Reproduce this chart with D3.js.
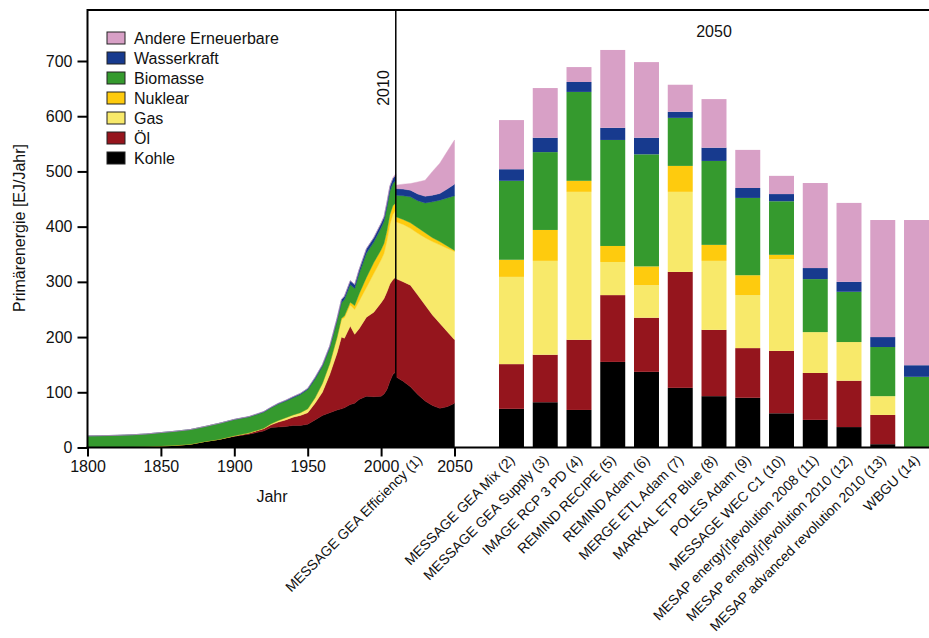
<!DOCTYPE html>
<html><head><meta charset="utf-8">
<script src="https://cdn.jsdelivr.net/npm/d3@7"></script>
<style>
body{margin:0;background:#fff}
text{font-family:"Liberation Sans",Arial,Helvetica,sans-serif;fill:#111}
</style>
</head><body>
<svg id="c" width="929" height="638"></svg>
<script>
// ---- series / legend ----
const sources = ["Kohle","Öl","Gas","Nuklear","Biomasse","Wasserkraft","Andere Erneuerbare"];
const colors  = ["#000000","#95151d","#f8e96a","#fecb0e","#359a2e","#173a8e","#d8a0c6"];

// ---- historical (1800-2010) EJ/Jahr ----
const histYears    = [1800,1810,1820,1830,1840,1850,1860,1870,1880,1890,1900,1910,1920,1925,1930,1935,1940,1945,1950,1955,1960,1965,1970,1973,1975,1979,1982,1985,1990,1995,2000,2002,2004,2006,2008,2010];
const histKohle    = [0,0.3,0.6,1,1.5,2.5,4,6,11,15,20,24,30,36,37,38,40,40,42,50,58,63,68,70,72,78,80,87,93,92,93,97,105,120,132,137];
const histOel      = [0,0,0,0,0,0,0,0,0,0,1,2,4,5,9,12,15,18,21,30,42,69,103,130,126,142,125,128,143,153,169,173,177,176,172,172];
const histGas      = [0,0,0,0,0,0,0,0,0,0,0.3,0.5,1,2,3,4,4,5,7,10,16,20,28,32,37,38,45,50,54,70,78,82,93,108,118,121];
const histNuklear  = [0,0,0,0,0,0,0,0,0,0,0,0,0,0,0,0,0,0,0,0,0,0,1,2,3,5,7,13,18,20,18,18,18,18,16,13];
const histBiomasse = [21,21.2,21.4,22,23,24.5,25.5,26.5,27,29,29.2,29,29,29,30,30,31,33,35,34,31,28,30,28,30,32,31,37,44,37,40,40,42,42,40,41];
const histWasser   = [0,0,0,0,0,0,0,0,0,0,0.5,0.5,1,1,1,1.5,2,2,2,3,3,4,4,6,6,7,7,7,8,8,8,8,9,9,9,10];
const histAndere   = [0,0,0,0,0,0,0,0,0,0,0,0,0,0,0,0,0,0,0,0,0,0,0,0,0,0,0,0,0,0,0.5,0.5,1,1,1.5,2];

// ---- scenario MESSAGE GEA Efficiency (1), 2010-2050 ----
const scenYears    = [2010,2015,2020,2025,2030,2035,2040,2045,2050];
const scenKohle    = [128,120,110,96,84,76,71,74,80];
const scenOel      = [178,180,184,180,174,164,154,136,115];
const scenGas      = [103,104,103,112,122,133,142,151,160];
const scenNuklear  = [9,9,10,10,9,7,6,4,2];
const scenBiomasse = [39,43,47,49,54,65,75,87,99];
const scenWasser   = [12,12,12,12,12,12,12,16,21];
const scenAndere   = [6,9,12,22,29,43,55,68,80];

// ---- 2050 scenarios (bars) ----
const barLabels = ["MESSAGE GEA Mix (2)","MESSAGE GEA Supply (3)","IMAGE RCP 3 PD (4)","REMIND RECIPE (5)","REMIND Adam (6)","MERGE ETL Adam (7)","MARKAL ETP Blue (8)","POLES Adam (9)","MESSAGE WEC C1 (10)","MESAP energy[r]evolution 2008 (11)","MESAP energy[r]evolution 2010 (12)","MESAP advanced revolution 2010 (13)","WBGU (14)"];
const barKohle    = [70,82,68,155,137,108,93,90,62,50,37,6,1];
const barOel      = [81,86,127,121,98,210,120,90,113,85,84,53,0];
const barGas      = [158,170,268,60,59,145,125,96,166,74,70,34,0];
const barNuklear  = [31,56,20,29,34,47,29,36,8,0,0,0,0];
const barBiomasse = [143,141,161,192,203,87,152,140,97,96,91,89,127];
const barWasser   = [21,26,18,22,30,11,24,18,13,20,18,18,21];
const barAndere   = [89,90,27,141,137,49,88,69,33,154,143,212,263];

const yTicks = [0,100,200,300,400,500,600,700];
const xTicks = [1800,1850,1900,1950,2000,2050];
const scen1Label = "MESSAGE GEA Efficiency (1)";

// ---- build rows ----
function rows(keys, arrs, extra){
  return keys.map((k,i)=>{
    const o = Object.assign({}, extra(k,i));
    sources.forEach((s,j)=> o[s] = arrs[j][i]);
    return o;
  });
}
const histRows = rows(histYears,[histKohle,histOel,histGas,histNuklear,histBiomasse,histWasser,histAndere],(k)=>({year:k}));
const scenRows = rows(scenYears,[scenKohle,scenOel,scenGas,scenNuklear,scenBiomasse,scenWasser,scenAndere],(k)=>({year:k}));
const barRows  = rows(barLabels,[barKohle,barOel,barGas,barNuklear,barBiomasse,barWasser,barAndere],(k)=>({label:k}));

const svg = d3.select("#c");
const x = d3.scaleLinear().domain([1800,2050]).range([87.5,454.5]);
const y = d3.scaleLinear().domain([0,700]).range([447.5,61]);
const xb = d3.scaleBand().domain(barLabels).range([499,929]).paddingInner(0.26).paddingOuter(0);
const color = d3.scaleOrdinal().domain(sources).range(colors);

const stack = d3.stack().keys(sources);
const area = d3.area().x(d=>x(d.data.year)).y0(d=>y(d[0])).y1(d=>y(d[1]));

[histRows, scenRows].forEach(data=>{
  svg.append("g").selectAll("path").data(stack(data)).join("path")
    .attr("d", area).attr("fill", d=>color(d.key))
    .attr("stroke", d=>color(d.key)).attr("stroke-width",0.4);
});

// bars
svg.append("g").selectAll("g").data(stack(barRows)).join("g")
  .attr("fill", d=>color(d.key))
  .selectAll("rect").data(d=>d).join("rect")
  .attr("x", d=>xb(d.data.label)).attr("width", xb.bandwidth())
  .attr("y", d=>y(d[1])).attr("height", d=>Math.max(0,y(d[0])-y(d[1])));

// frame lines
svg.append("line").attr("x1",87.5).attr("x2",929).attr("y1",10).attr("y2",10).attr("stroke","#000").attr("stroke-width",2);
svg.append("line").attr("x1",87.5).attr("x2",87.5).attr("y1",9).attr("y2",447.5).attr("stroke","#000").attr("stroke-width",2);
svg.append("line").attr("x1",x(2010)).attr("x2",x(2010)).attr("y1",10).attr("y2",447.5).attr("stroke","#000").attr("stroke-width",1.5);

// y axis
const ya = svg.append("g").attr("transform","translate(87.5,0)")
  .call(d3.axisLeft(y).tickValues(yTicks).tickSize(10).tickPadding(5));
ya.select(".domain").remove();
ya.selectAll("line").attr("stroke","#000").attr("stroke-width",2);
ya.selectAll("text").attr("font-size",16).style("font-family",'"Liberation Sans",Arial,sans-serif').attr("fill","#111");

// x axis
const xa = svg.append("g").attr("transform","translate(0,447.5)")
  .call(d3.axisBottom(x).tickValues(xTicks).tickFormat(d3.format("d")).tickSize(9).tickPadding(4));
xa.select(".domain").remove();
xa.selectAll("line").attr("stroke","#000").attr("stroke-width",2);
xa.selectAll("text").attr("font-size",16).style("font-family",'"Liberation Sans",Arial,sans-serif').attr("fill","#111");
svg.append("line").attr("x1",86.5).attr("x2",929).attr("y1",447.5).attr("y2",447.5).attr("stroke","#000").attr("stroke-width",2);

// axis titles
svg.append("text").attr("x",272).attr("y",502).attr("text-anchor","middle").attr("font-size",16).text("Jahr");
svg.append("text").attr("transform","translate(25,228) rotate(-90)").attr("text-anchor","middle").attr("font-size",16).text("Primärenergie [EJ/Jahr]");

// annotations
svg.append("text").attr("transform",`translate(${x(2010)-6.5},88) rotate(-90)`).attr("text-anchor","middle").attr("font-size",16).text("2010");
svg.append("text").attr("x",714).attr("y",36.5).attr("text-anchor","middle").attr("font-size",16).text("2050");

// category labels
svg.append("text").attr("transform",`translate(423,461) rotate(-45)`).attr("text-anchor","end").attr("font-size",14).text(scen1Label);
svg.append("g").selectAll("text").data(barLabels).join("text")
  .attr("transform", d=>`translate(${xb(d)+xb.bandwidth()/2+4},461) rotate(-45)`)
  .attr("text-anchor","end").attr("font-size",14).text(d=>d);

// legend
const leg = svg.append("g").selectAll("g").data(sources.slice().reverse()).join("g")
  .attr("transform",(d,i)=>`translate(107,${32+20*i})`);
leg.append("rect").attr("width",18).attr("height",12).attr("fill",d=>color(d)).attr("stroke","#222").attr("stroke-width",1);
leg.append("text").attr("x",27).attr("y",11.5).attr("font-size",16).text(d=>d);
</script>
</body></html>
